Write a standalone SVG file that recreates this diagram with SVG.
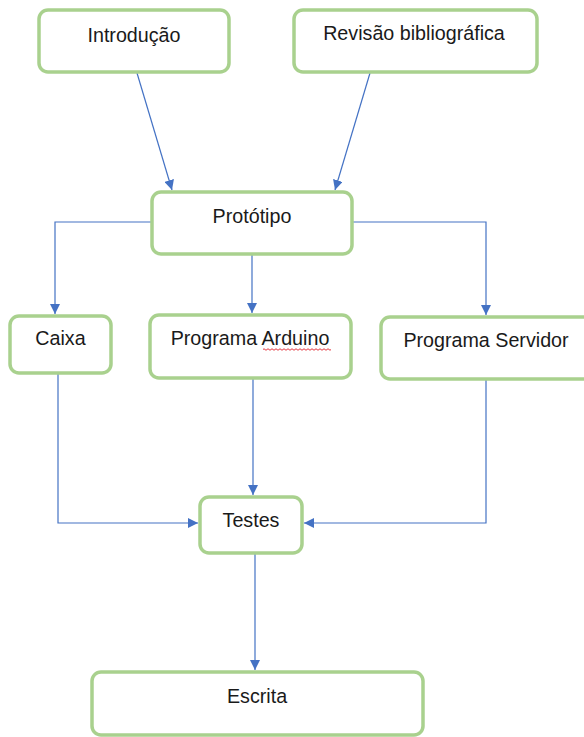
<svg xmlns="http://www.w3.org/2000/svg" width="584" height="737" viewBox="0 0 584 737">
<style>
.box{fill:#fff;stroke:#A9D18E;stroke-width:3.5}
.lbl{font-family:"Liberation Sans",Arial,sans-serif;font-size:19.7px;fill:#1a1a1a;text-anchor:middle}
.con{fill:none;stroke:#4472C4;stroke-width:1.2}
</style>
<defs>
<marker id="arr" viewBox="0 0 10 10" refX="10" refY="5" markerWidth="10" markerHeight="10" markerUnits="userSpaceOnUse" orient="auto">
<path d="M0,0 L10,5 L0,10 z" fill="#4472C4"/>
</marker>
</defs>
<rect width="584" height="737" fill="#fff"/>
<g id="connectors">
<path class="con" d="M137,73 L172,190" marker-end="url(#arr)"/>
<path class="con" d="M370,73 L335,190" marker-end="url(#arr)"/>
<path class="con" d="M151,222 L55,222 L55,314" marker-end="url(#arr)"/>
<path class="con" d="M252,254 L252,313" marker-end="url(#arr)"/>
<path class="con" d="M353,222 L486,222 L486,315" marker-end="url(#arr)"/>
<path class="con" d="M58,373 L58,523 L198,523" marker-end="url(#arr)"/>
<path class="con" d="M253,378 L253,495" marker-end="url(#arr)"/>
<path class="con" d="M486,379 L486,523 L304,523" marker-end="url(#arr)"/>
<path class="con" d="M255,553 L255,670" marker-end="url(#arr)"/>
</g>
<g id="introducao">
<rect class="box" x="39" y="10" width="190" height="62" rx="9"/>
<text class="lbl" x="134" y="41.5">Introdução</text>
</g>
<g id="revisao">
<rect class="box" x="294" y="10" width="243" height="62" rx="9"/>
<text class="lbl" x="414" y="40">Revisão bibliográfica</text>
</g>
<g id="prototipo">
<rect class="box" x="152" y="192" width="200" height="62" rx="9"/>
<text class="lbl" x="252" y="223">Protótipo</text>
</g>
<g id="caixa">
<rect class="box" x="10" y="316" width="101" height="57" rx="9"/>
<text class="lbl" x="60.5" y="345">Caixa</text>
</g>
<g id="arduino">
<rect class="box" x="150" y="315" width="201" height="63" rx="9"/>
<text class="lbl" x="250" y="345">Programa Arduino</text>
<path d="M263,349.5 q1,-1.5 2,0 t2,0 t2,0 t2,0 t2,0 t2,0 t2,0 t2,0 t2,0 t2,0 t2,0 t2,0 t2,0 t2,0 t2,0 t2,0 t2,0 t2,0 t2,0 t2,0 t2,0 t2,0 t2,0 t2,0 t2,0 t2,0 t2,0 t2,0 t2,0 t2,0 t2,0 t2,0 t2,0 t2,0" fill="none" stroke="#e0202a" stroke-width="0.9"/>
</g>
<g id="servidor">
<rect class="box" x="381" y="317" width="215" height="62" rx="9"/>
<text class="lbl" x="486" y="347">Programa Servidor</text>
</g>
<g id="testes">
<rect class="box" x="200" y="497" width="102" height="56" rx="9"/>
<text class="lbl" x="251" y="527">Testes</text>
</g>
<g id="escrita">
<rect class="box" x="92" y="672" width="331" height="63" rx="9"/>
<text class="lbl" x="257" y="703">Escrita</text>
</g>
</svg>
